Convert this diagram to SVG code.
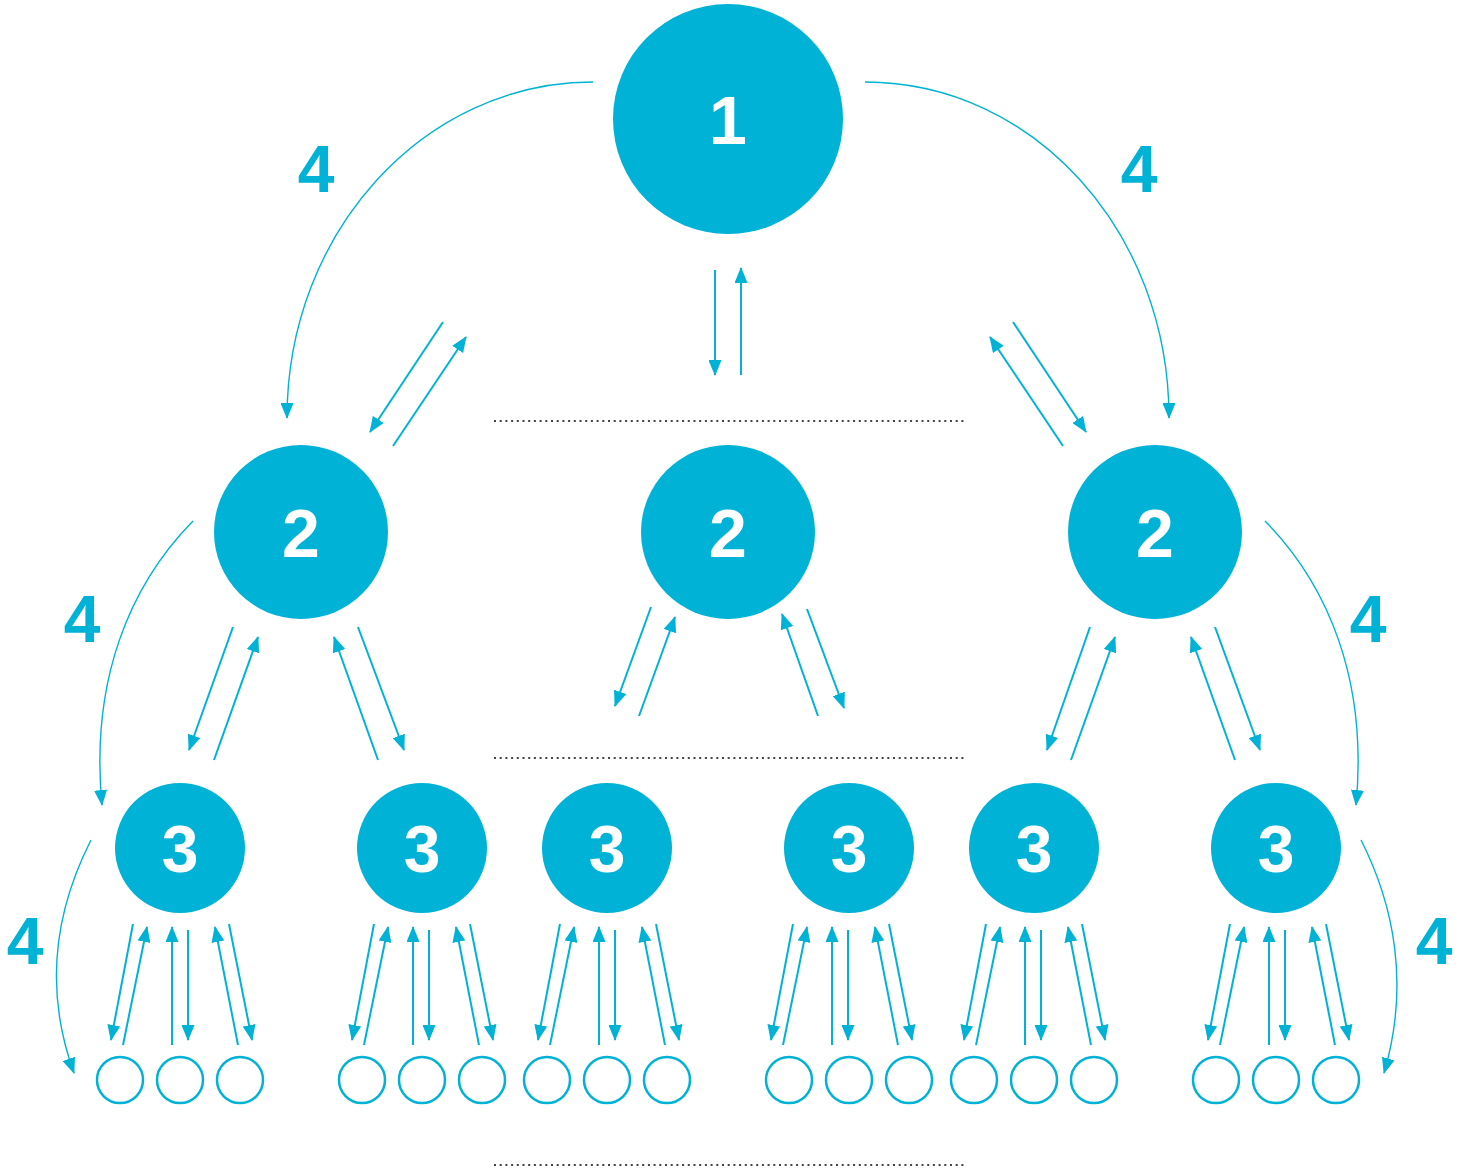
<svg xmlns="http://www.w3.org/2000/svg" xmlns:xlink="http://www.w3.org/1999/xlink" width="1465" height="1171" viewBox="0 0 1465 1171">
<style>
.big{fill:#00b2d5}
.small{fill:none;stroke:#00b2d5;stroke-width:2.5}
.num{font-family:"Liberation Sans",Arial,sans-serif;font-weight:bold;fill:#fff;text-anchor:middle}
.lbl{font-family:"Liberation Sans",Arial,sans-serif;font-weight:bold;fill:#00b2d5;text-anchor:middle;font-size:66px}
.ar{stroke:#00b2d5;stroke-width:2;fill:none;marker-end:url(#ah)}
.arc{stroke:#00b2d5;stroke-width:1.4;fill:none;marker-end:url(#ah)}
.dot{stroke:#444;stroke-width:2;stroke-dasharray:2 3.7;fill:none}
</style>
<defs>
<marker id="ah" markerUnits="userSpaceOnUse" markerWidth="16" markerHeight="13" refX="15" refY="6.5" orient="auto">
<path d="M0,0 L16,6.5 L0,13 z" fill="#00b2d5"/>
</marker>
<g id="fan">
<line class="ar" x1="-47" y1="924" x2="-69" y2="1040"/>
<line class="ar" x1="-57" y1="1045" x2="-33" y2="927"/>
<line class="ar" x1="-8" y1="1045" x2="-8" y2="927"/>
<line class="ar" x1="8" y1="930" x2="8" y2="1040"/>
<line class="ar" x1="58" y1="1045" x2="35" y2="927"/>
<line class="ar" x1="49" y1="924" x2="72" y2="1040"/>
</g>
</defs>
<rect width="1465" height="1171" fill="#fff"/>

<g id="dividers">
<line class="dot" x1="494" y1="421" x2="967" y2="421"/>
<line class="dot" x1="494" y1="758" x2="967" y2="758"/>
<line class="dot" x1="494" y1="1165" x2="967" y2="1165"/>
</g>

<g id="connectors">
<line class="ar" x1="715" y1="270" x2="715" y2="375"/>
<line class="ar" x1="741" y1="375" x2="741" y2="268"/>
<line class="ar" x1="443" y1="322" x2="370" y2="432"/>
<line class="ar" x1="393" y1="446" x2="466" y2="337"/>
<line class="ar" x1="1013" y1="322" x2="1086" y2="432"/>
<line class="ar" x1="1063" y1="446" x2="990" y2="337"/>

<line class="ar" x1="233" y1="627" x2="189" y2="750"/>
<line class="ar" x1="214" y1="760" x2="258" y2="637"/>
<line class="ar" x1="378" y1="760" x2="334" y2="637"/>
<line class="ar" x1="358" y1="627" x2="404" y2="750"/>

<line class="ar" x1="651" y1="607" x2="615" y2="706"/>
<line class="ar" x1="639" y1="716" x2="675" y2="617"/>
<line class="ar" x1="818" y1="716" x2="782" y2="614"/>
<line class="ar" x1="807" y1="609" x2="844" y2="708"/>

<line class="ar" x1="1090" y1="627" x2="1047" y2="750"/>
<line class="ar" x1="1071" y1="760" x2="1115" y2="637"/>
<line class="ar" x1="1235" y1="760" x2="1191" y2="637"/>
<line class="ar" x1="1215" y1="627" x2="1260" y2="750"/>

<use xlink:href="#fan" transform="translate(180,0)"/>
<use xlink:href="#fan" transform="translate(421,0)"/>
<use xlink:href="#fan" transform="translate(607,0)"/>
<use xlink:href="#fan" transform="translate(840,0)"/>
<use xlink:href="#fan" transform="translate(1033,0)"/>
<use xlink:href="#fan" transform="translate(1277,0)"/>

<path class="arc" d="M593,82 C424,82 287,232 287,418"/>
<path class="arc" d="M865,82 C1034,82 1169,232 1169,418"/>
<path class="arc" d="M193,521 C130,585 90,680 102,805"/>
<path class="arc" d="M1265,521 C1328,585 1368,680 1356,805"/>
<path class="arc" d="M91,840 C58,905 42,985 74,1073"/>
<path class="arc" d="M1361,840 C1394,905 1410,985 1384,1073"/>

<text class="lbl" x="316" y="192">4</text>
<text class="lbl" x="1139" y="192">4</text>
<text class="lbl" x="82" y="642">4</text>
<text class="lbl" x="1368" y="642">4</text>
<text class="lbl" x="25" y="964">4</text>
<text class="lbl" x="1434" y="964">4</text>
</g>

<g id="n1"><circle class="big" cx="728" cy="119" r="115"/><text class="num" x="728" y="144" font-size="68">1</text></g>
<g id="n2a"><circle class="big" cx="301" cy="532" r="87"/><text class="num" x="301" y="557" font-size="68">2</text></g>
<g id="n2b"><circle class="big" cx="728" cy="532" r="87"/><text class="num" x="728" y="557" font-size="68">2</text></g>
<g id="n2c"><circle class="big" cx="1155" cy="532" r="87"/><text class="num" x="1155" y="557" font-size="68">2</text></g>

<g id="n3a"><circle class="big" cx="180" cy="848" r="65"/><text class="num" x="180" y="872" font-size="66">3</text></g>
<g id="n3b"><circle class="big" cx="422" cy="848" r="65"/><text class="num" x="422" y="872" font-size="66">3</text></g>
<g id="n3c"><circle class="big" cx="607" cy="848" r="65"/><text class="num" x="607" y="872" font-size="66">3</text></g>
<g id="n3d"><circle class="big" cx="849" cy="848" r="65"/><text class="num" x="849" y="872" font-size="66">3</text></g>
<g id="n3e"><circle class="big" cx="1034" cy="848" r="65"/><text class="num" x="1034" y="872" font-size="66">3</text></g>
<g id="n3f"><circle class="big" cx="1276" cy="848" r="65"/><text class="num" x="1276" y="872" font-size="66">3</text></g>

<g id="leaves">
<circle class="small" cx="120" cy="1080" r="23"/><circle class="small" cx="180" cy="1080" r="23"/><circle class="small" cx="240" cy="1080" r="23"/>
<circle class="small" cx="362" cy="1080" r="23"/><circle class="small" cx="422" cy="1080" r="23"/><circle class="small" cx="482" cy="1080" r="23"/>
<circle class="small" cx="547" cy="1080" r="23"/><circle class="small" cx="607" cy="1080" r="23"/><circle class="small" cx="667" cy="1080" r="23"/>
<circle class="small" cx="789" cy="1080" r="23"/><circle class="small" cx="849" cy="1080" r="23"/><circle class="small" cx="909" cy="1080" r="23"/>
<circle class="small" cx="974" cy="1080" r="23"/><circle class="small" cx="1034" cy="1080" r="23"/><circle class="small" cx="1094" cy="1080" r="23"/>
<circle class="small" cx="1216" cy="1080" r="23"/><circle class="small" cx="1276" cy="1080" r="23"/><circle class="small" cx="1336" cy="1080" r="23"/>
</g>
</svg>
